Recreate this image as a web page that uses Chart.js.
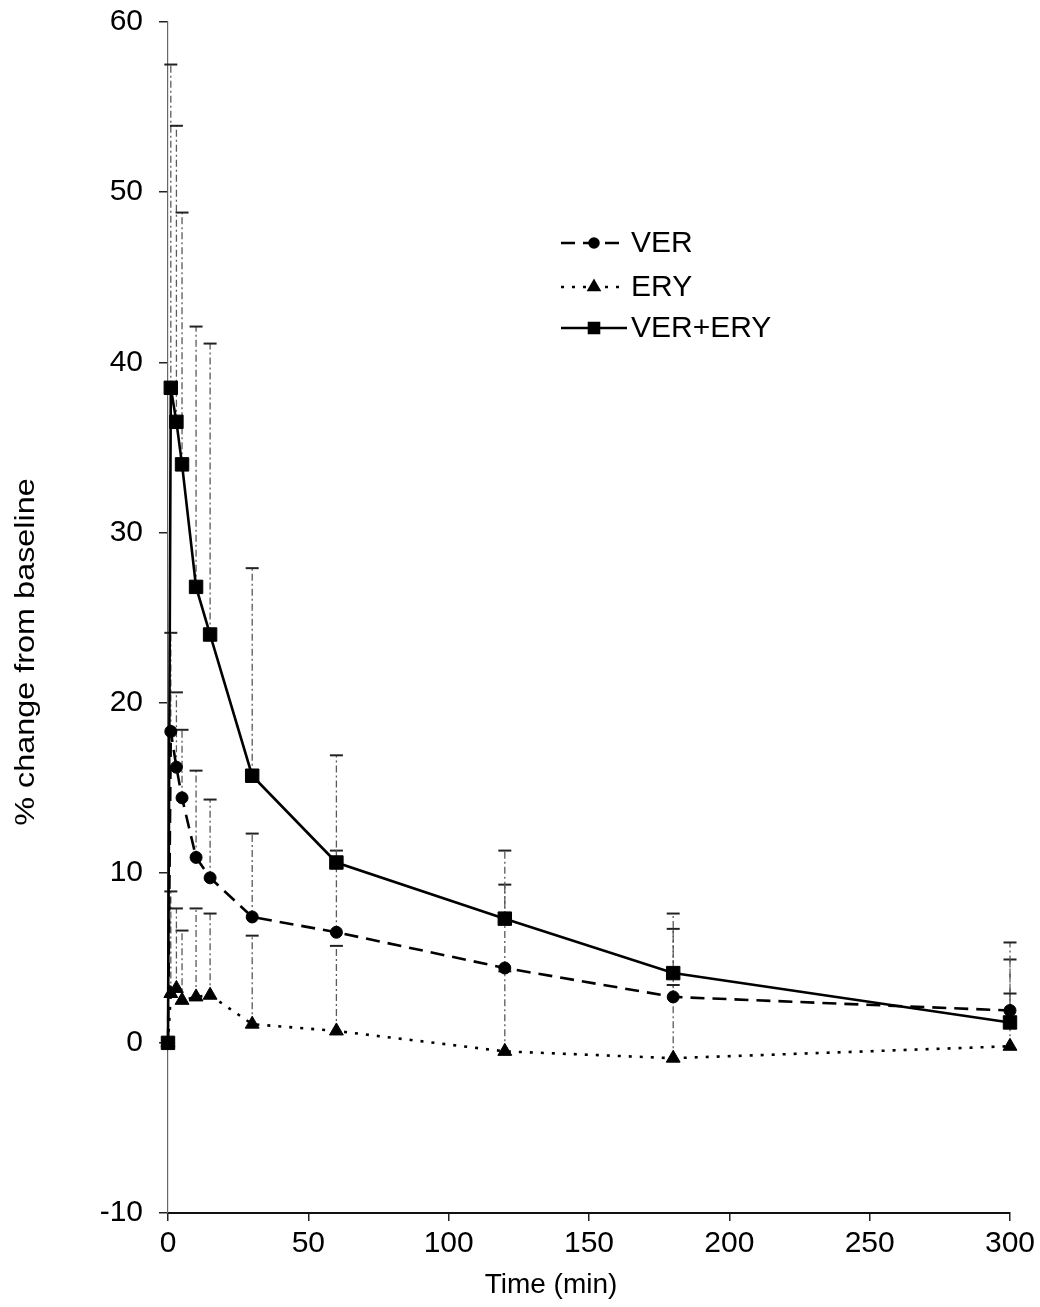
<!DOCTYPE html>
<html>
<head>
<meta charset="utf-8">
<script src="https://cdn.jsdelivr.net/npm/chart.js@4.4.1/dist/chart.umd.min.js"></script>
<style>
  html, body { margin: 0; padding: 0; background: #ffffff; }
  #wrap { position: relative; width: 1040px; height: 1307px; }
  canvas { display: block; }
</style>
</head>
<body>
<div id="wrap"><canvas id="c" width="1040" height="1307"></canvas></div>
<script>
// ---- data ----
const times = [0, 1, 3, 5, 10, 15, 30, 60, 120, 180, 300];
const verValues = [0, 18.3, 16.2, 14.4, 10.9, 9.7, 7.4, 6.5, 4.4, 2.7, 1.9];
const verErrors = [0, 5.8, 4.4, 4.0, 5.1, 4.6, 4.9, 4.8, 4.9, 4.0, 3.0];
const eryValues = [0, 2.9, 3.2, 2.5, 2.7, 2.8, 1.1, 0.7, -0.5, -0.9, -0.2];
const eryErrors = [0, 6.0, 4.7, 4.1, 5.2, 4.8, 5.2, 5.0, 4.7, 4.3, 3.1];
const comboValues = [0, 38.5, 36.5, 34.0, 26.8, 24.0, 15.7, 10.6, 7.3, 4.1, 1.2];
const comboErrors = [0, 19.0, 17.4, 14.8, 15.3, 17.1, 12.2, 6.3, 4.0, 3.5, 4.7];
const seriesNames = ['VER', 'ERY', 'VER+ERY'];
const xTicks = [0, 50, 100, 150, 200, 250, 300];
const yTicks = [-10, 0, 10, 20, 30, 40, 50, 60];
const xTitle = 'Time (min)';
const yTitle = '% change from baseline';

const FONT = "'Liberation Sans', Arial, sans-serif";

function pts(vals) { return times.map((t, i) => ({ x: t, y: vals[i] })); }

const errorSets = [verErrors, eryErrors, comboErrors];

const errorBarPlugin = {
  id: 'errorBars',
  beforeDatasetsDraw(chart) {
    const { ctx, scales: { x, y } } = chart;
    ctx.save();
    chart.data.datasets.forEach((ds, di) => {
      const errs = errorSets[di];
      ds.data.forEach((p, i) => {
        const e = errs[i];
        if (!e) return;
        const px = x.getPixelForValue(p.x);
        const y0 = y.getPixelForValue(p.y);
        const y1 = y.getPixelForValue(p.y + e);
        ctx.beginPath();
        ctx.setLineDash([7, 3, 2, 3]);
        ctx.strokeStyle = '#5a5a5a';
        ctx.lineWidth = 1.3;
        ctx.moveTo(px, y0);
        ctx.lineTo(px, y1);
        ctx.stroke();
        ctx.setLineDash([]);
        ctx.beginPath();
        ctx.strokeStyle = '#222';
        ctx.lineWidth = 2;
        ctx.moveTo(px - 6.5, y1);
        ctx.lineTo(px + 6.5, y1);
        ctx.stroke();
      });
    });
    ctx.restore();
  }
};

const decorPlugin = {
  id: 'decor',
  afterDraw(chart) {
    const { ctx } = chart;
    ctx.save();
    // axis titles
    ctx.fillStyle = '#000';
    ctx.font = '28px ' + FONT;
    ctx.textAlign = 'center';
    ctx.textBaseline = 'middle';
    ctx.fillText(xTitle, 551, 1285);
    ctx.translate(27, 652);
    ctx.rotate(-Math.PI / 2);
    ctx.scale(1.2, 1);
    ctx.font = '27px ' + FONT;
    ctx.fillText(yTitle, 0, 0);
    ctx.restore();

    // legend
    ctx.save();
    const rows = [243, 287, 328];
    chart.data.datasets.forEach((ds, i) => {
      const yy = rows[i];
      ctx.beginPath();
      ctx.setLineDash(ds.borderDash || []);
      ctx.strokeStyle = '#000';
      ctx.lineWidth = 2.5;
      ctx.moveTo(561, yy);
      ctx.lineTo(627, yy);
      ctx.stroke();
      ctx.setLineDash([]);
      Chart.helpers.drawPoint(ctx, {
        pointStyle: ds.pointStyle, radius: ds.pointRadius * 0.75, borderWidth: 1
      }, 594, yy);
      ctx.fillStyle = '#000';
      ctx.fill();
      ctx.font = '30px ' + FONT;
      ctx.textAlign = 'left';
      ctx.textBaseline = 'middle';
      ctx.fillStyle = '#000';
      ctx.fillText(ds.label, 631, yy + 1);
    });
    ctx.restore();
  }
};

const common = {
  borderColor: '#000',
  backgroundColor: '#000',
  pointBackgroundColor: '#000',
  pointBorderColor: '#000',
  borderWidth: 2.6,
  tension: 0,
  clip: false,
  pointBorderWidth: 1
};

new Chart(document.getElementById('c'), {
  type: 'line',
  data: {
    datasets: [
      Object.assign({}, common, { label: seriesNames[0], data: pts(verValues), borderDash: [14, 8], pointStyle: 'circle', pointRadius: 6 }),
      Object.assign({}, common, { label: seriesNames[1], data: pts(eryValues), borderDash: [3, 8], pointStyle: 'triangle', pointRadius: 8 }),
      Object.assign({}, common, { label: seriesNames[2], data: pts(comboValues), borderDash: [], pointStyle: 'rect', pointRadius: 9.5 })
    ]
  },
  options: {
    responsive: false,
    animation: false,
    devicePixelRatio: 1,
    layout: { padding: { top: 22, right: 30, bottom: 0, left: 0 } },
    plugins: { legend: { display: false }, tooltip: { enabled: false } },
    scales: {
      x: {
        type: 'linear',
        min: 0, max: 300,
        afterBuildTicks(axis) { axis.ticks = xTicks.map(v => ({ value: v })); },
        afterFit(axis) { axis.height = 94; axis.paddingLeft = 0; axis.paddingRight = 0; },
        grid: { display: true, drawOnChartArea: false, drawTicks: true, tickLength: 8, color: '#222', lineWidth: 1.5 },
        border: { display: true, color: '#111', width: 2 },
        ticks: { color: '#000', font: { family: FONT, size: 30 }, padding: 5, maxRotation: 0 }
      },
      y: {
        type: 'linear',
        min: -10, max: 60,
        afterBuildTicks(axis) { axis.ticks = yTicks.map(v => ({ value: v })); },
        afterFit(axis) { axis.width = 168; axis.paddingTop = 0; axis.paddingBottom = 0; },
        grid: { display: true, drawOnChartArea: false, drawTicks: true, tickLength: 9, color: '#222', lineWidth: 1.5 },
        border: { display: true, color: '#666', width: 1.2 },
        ticks: { color: '#000', font: { family: FONT, size: 30 }, padding: 16 }
      }
    }
  },
  plugins: [errorBarPlugin, decorPlugin]
});
</script>
</body>
</html>
